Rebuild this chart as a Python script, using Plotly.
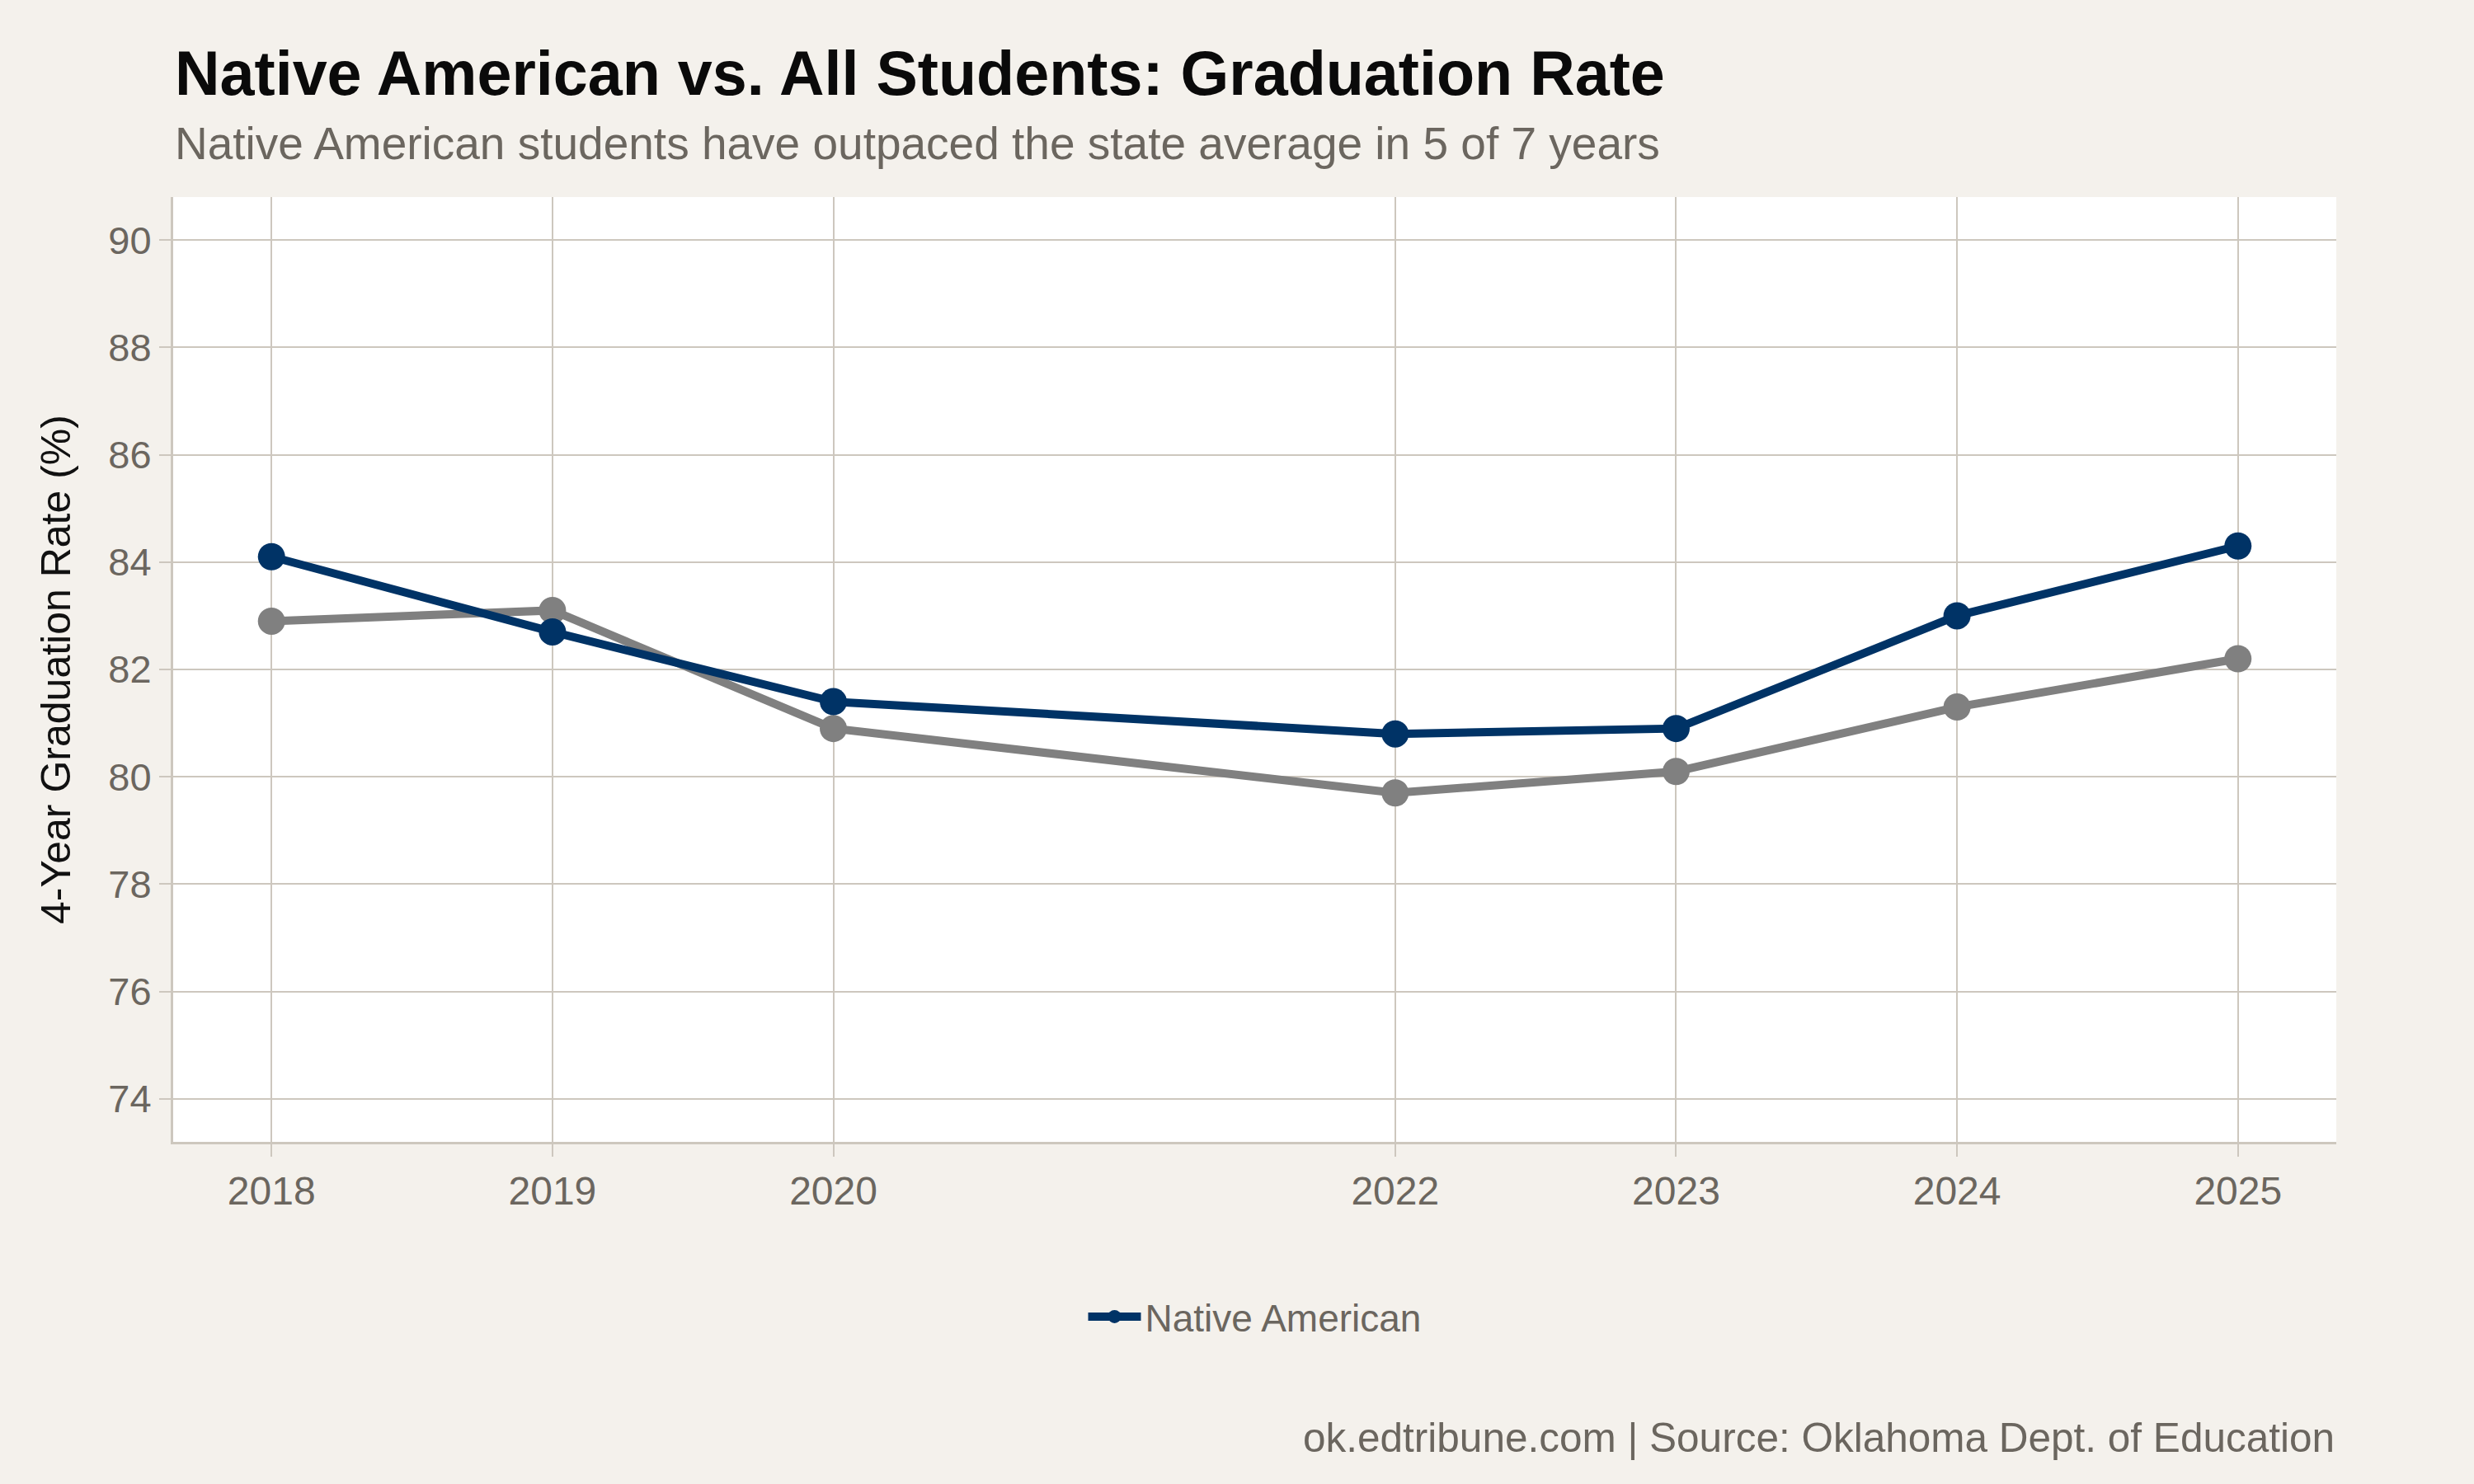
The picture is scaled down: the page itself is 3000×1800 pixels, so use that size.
import plotly.graph_objects as go

years = [2018, 2019, 2020, 2022, 2023, 2024, 2025]
native_american = [84.1, 82.7, 81.4, 80.8, 80.9, 83.0, 84.3]
all_students = [82.9, 83.1, 80.9, 79.7, 80.1, 81.3, 82.2]
year_labels = [str(y) for y in years]
y_ticks = [74, 76, 78, 80, 82, 84, 86, 88, 90]

title_text = "Native American vs. All Students: Graduation Rate"
subtitle_text = "Native American students have outpaced the state average in 5 of 7 years"
caption_text = "ok.edtribune.com | Source: Oklahoma Dept. of Education"
y_title = "4-Year Graduation Rate (%)"

BG = "#F4F1EC"
GRID = "#CDC7BE"
TXT = "#6B665F"
BLUE = "#003366"
GREY = "#808080"
FONT = "Liberation Sans"

fig = go.Figure()
fig.add_trace(go.Scatter(
    x=years, y=all_students, mode="lines+markers", name="All Students",
    line=dict(color=GREY, width=10), marker=dict(color=GREY, size=33),
    showlegend=False,
))
fig.add_trace(go.Scatter(
    x=years, y=native_american, mode="lines+markers", name="Native American",
    line=dict(color=BLUE, width=10), marker=dict(color=BLUE, size=33),
))

fig.update_layout(
    width=3000, height=1800,
    margin=dict(l=210, r=167, t=239, b=415, autoexpand=False),
    paper_bgcolor=BG, plot_bgcolor="white",
    font=dict(family=FONT, color=TXT, size=48),
    showlegend=True,
    legend=dict(
        orientation="h", x=0.5, xanchor="center", y=-0.185, yanchor="middle",
        font=dict(size=46, color=TXT), bgcolor="rgba(0,0,0,0)",
        itemwidth=64,
    ),
    xaxis=dict(
        range=[2017.65, 2025.35], tickvals=years, ticktext=year_labels,
        showgrid=True, gridcolor=GRID, gridwidth=2,
        showline=True, linecolor=GRID, linewidth=3,
        ticks="outside", ticklen=15, tickwidth=2, tickcolor=GRID,
        tickfont=dict(size=48, color=TXT), zeroline=False,
    ),
    yaxis=dict(
        range=[73.2, 90.8], tickvals=y_ticks,
        showgrid=True, gridcolor=GRID, gridwidth=2,
        showline=True, linecolor=GRID, linewidth=3,
        ticks="outside", ticklen=14, tickwidth=2, tickcolor=GRID,
        tickfont=dict(size=47, color=TXT), zeroline=False,
        title=dict(text=y_title, font=dict(size=50, color="#111111"), standoff=30),
    ),
    annotations=[
        dict(text="<b>" + title_text + "</b>", xref="paper", yref="paper",
             x=0, y=1.1305, xanchor="left", yanchor="middle", showarrow=False,
             font=dict(size=75.5, color="#0A0A0A", family=FONT)),
        dict(text=subtitle_text, xref="paper", yref="paper",
             x=0, y=1.0565, xanchor="left", yanchor="middle", showarrow=False,
             font=dict(size=55, color=TXT, family=FONT)),
        dict(text=caption_text, xref="paper", yref="paper",
             x=1, y=-0.313, xanchor="right", yanchor="middle", showarrow=False,
             font=dict(size=49.5, color=TXT, family=FONT)),
    ],
)

fig.write_html("out.html")
